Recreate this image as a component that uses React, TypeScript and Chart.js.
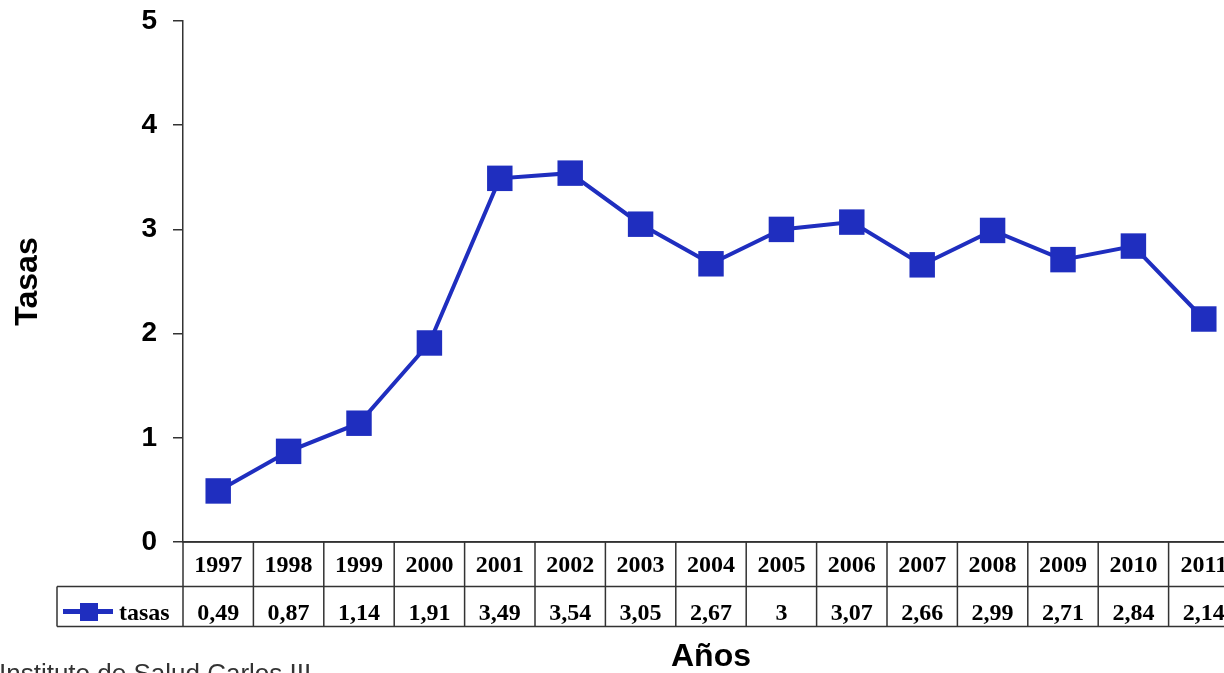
import React, { useEffect, useRef } from "react";
import { Chart, registerables } from "chart.js";

Chart.register(...registerables);

const years = ["1997", "1998", "1999", "2000", "2001", "2002", "2003", "2004", "2005", "2006", "2007", "2008", "2009", "2010", "2011"];
const tasas = [0.49, 0.87, 1.14, 1.91, 3.49, 3.54, 3.05, 2.67, 3, 3.07, 2.66, 2.99, 2.71, 2.84, 2.14];
const seriesName = "tasas";
const yTitle = "Tasas";
const xTitle = "Años";
const sourceText = "Instituto de Salud Carlos III";

const BLUE = "#1F2EBF";
const LINE = "#333333";

const tablePlugin = {
  id: "dataTable",
  afterDraw(chart: any) {
    const ctx = chart.ctx;
    const xs = chart.scales.x;
    const area = chart.chartArea;
    const n = years.length;
    const w = (area.right - area.left) / n;
    const top = area.bottom;
    const mid = top + 44.5;
    const bot = top + 84.5;
    const legLeft = 57;
    ctx.save();
    ctx.strokeStyle = LINE;
    ctx.lineWidth = 1.5;
    ctx.beginPath();
    ctx.moveTo(area.left, top);
    ctx.lineTo(area.right + 5, top);
    ctx.moveTo(legLeft, mid);
    ctx.lineTo(area.right + 5, mid);
    ctx.moveTo(legLeft, bot);
    ctx.lineTo(area.right + 5, bot);
    for (let i = 0; i <= n; i++) {
      const x = area.left + i * w;
      ctx.moveTo(x, top);
      ctx.lineTo(x, bot);
    }
    ctx.moveTo(legLeft, mid);
    ctx.lineTo(legLeft, bot);
    ctx.stroke();

    ctx.fillStyle = "#000";
    ctx.font = "bold 24px 'Liberation Serif', 'Times New Roman', serif";
    ctx.textAlign = "center";
    ctx.textBaseline = "alphabetic";
    for (let i = 0; i < n; i++) {
      const cx = xs.getPixelForValue(i);
      ctx.fillText(years[i], cx, top + 30);
      ctx.fillText(String(tasas[i]).replace(".", ","), cx, bot - 7);
    }
    // legend
    ctx.strokeStyle = BLUE;
    ctx.lineWidth = 5;
    ctx.beginPath();
    ctx.moveTo(63, 611.5);
    ctx.lineTo(113, 611.5);
    ctx.stroke();
    ctx.fillStyle = BLUE;
    ctx.fillRect(80, 603, 18, 18);
    ctx.fillStyle = "#000";
    ctx.textAlign = "left";
    ctx.fillText(seriesName, 119, bot - 7);

    // source
    ctx.fillStyle = "#333";
    ctx.font = "26px 'Liberation Sans', Arial, sans-serif";
    ctx.fillText(sourceText, -1, 682);
    ctx.restore();
  },
};

export default function App() {
  const ref = useRef<HTMLCanvasElement | null>(null);
  useEffect(() => {
    if (!ref.current) return;
    const chart = new Chart(ref.current, {
      type: "line",
      data: {
        labels: years,
        datasets: [
          {
            label: seriesName,
            data: tasas,
            borderColor: BLUE,
            backgroundColor: BLUE,
            borderWidth: 4,
            tension: 0,
            pointStyle: "rect",
            pointRadius: 18,
            pointHoverRadius: 18,
            pointBorderWidth: 0,
            pointBackgroundColor: BLUE,
          },
        ],
      },
      plugins: [tablePlugin],
      options: {
        responsive: false,
        animation: false,
        layout: { autoPadding: false, padding: { top: 21, right: 0, bottom: 0, left: 0 } },
        plugins: { legend: { display: false }, tooltip: { enabled: false } },
        scales: {
          x: {
            offset: true,
            grid: { display: false },
            border: { display: true, color: LINE, width: 1.5 },
            ticks: { display: false },
            afterFit: (s: any) => {
              s.height = 131;
            },
            title: {
              display: true,
              text: xTitle,
              color: "#000",
              font: { family: "'Liberation Sans', Arial, sans-serif", size: 32, weight: "bold", lineHeight: 1 },
              padding: { top: 0, bottom: 0 },
            },
          },
          y: {
            min: 0,
            max: 5,
            grid: { drawOnChartArea: false, drawTicks: true, tickLength: 10, color: LINE, lineWidth: 1.5 },
            border: { display: true, color: LINE, width: 1.5 },
            ticks: {
              stepSize: 1,
              padding: 16,
              color: "#000",
              font: { family: "'Liberation Sans', Arial, sans-serif", size: 28, weight: "bold" },
            },
            afterFit: (s: any) => {
              s.width = 183;
              s.paddingTop = 0;
              s.paddingBottom = 0;
            },
            title: {
              display: true,
              text: yTitle,
              color: "#000",
              font: { family: "'Liberation Sans', Arial, sans-serif", size: 32, weight: "bold", lineHeight: 1 },
              padding: { top: 12, bottom: 0 },
            },
          },
        },
      },
    });
    return () => chart.destroy();
  }, []);
  return (
    <div style={{ position: "fixed", left: 0, top: 0, width: 1224, height: 673, overflow: "hidden", background: "#fff" }}>
      <canvas ref={ref} width={1239} height={673} style={{ display: "block", width: 1239, height: 673 }} />
    </div>
  );
}
